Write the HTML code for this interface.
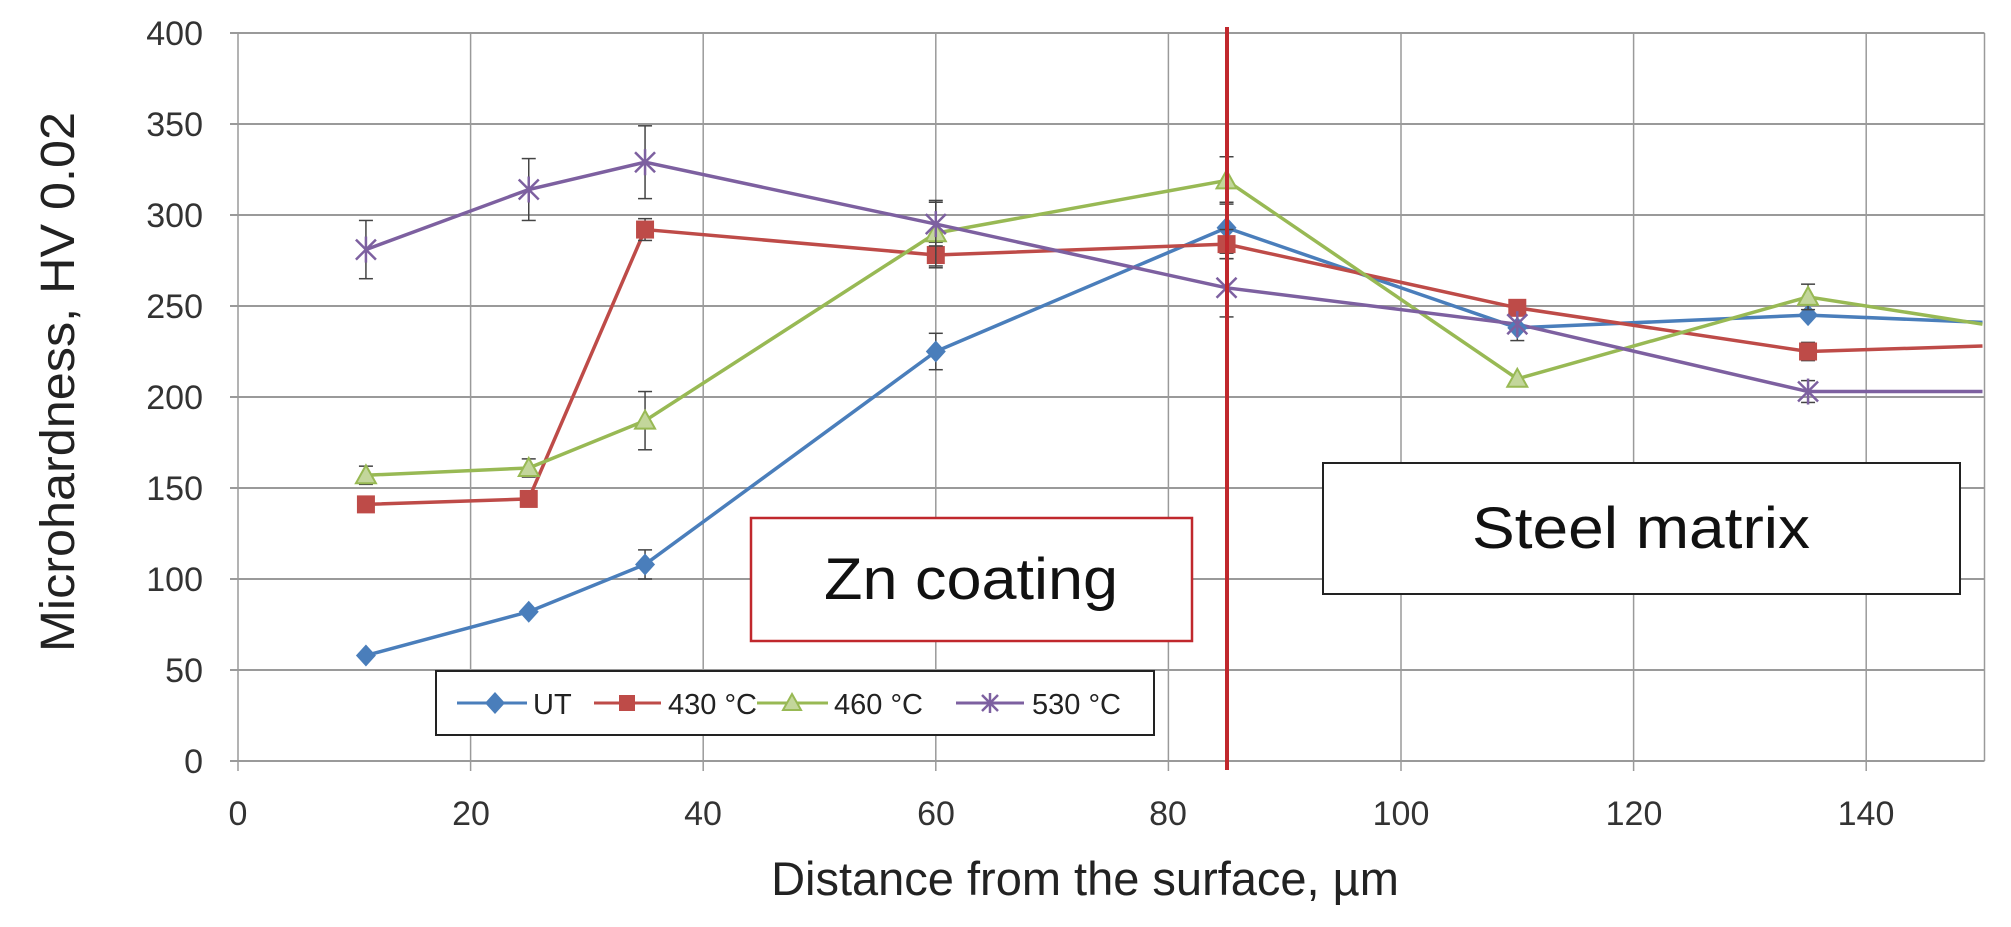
<!DOCTYPE html>
<html><head><meta charset="utf-8">
<style>
html,body{margin:0;padding:0;background:#fff;}
svg{display:block;font-family:"Liberation Sans",sans-serif;}
</style></head>
<body>
<svg id="c" width="2011" height="927" viewBox="0 0 2011 927" xmlns="http://www.w3.org/2000/svg">
<rect width="2011" height="927" fill="#fff"/>
<g id="grid" stroke="#9a9a9a" stroke-width="2"></g>
<g fill="#333" font-size="34" text-anchor="end">
<text x="203" y="773">0</text>
<text x="203" y="682">50</text>
<text x="203" y="591">100</text>
<text x="203" y="500">150</text>
<text x="203" y="409">200</text>
<text x="203" y="318">250</text>
<text x="203" y="227">300</text>
<text x="203" y="136">350</text>
<text x="203" y="45">400</text>
</g>
<g fill="#333" font-size="34" text-anchor="middle">
<text x="238" y="825">0</text>
<text x="471" y="825">20</text>
<text x="703" y="825">40</text>
<text x="936" y="825">60</text>
<text x="1168" y="825">80</text>
<text x="1401" y="825">100</text>
<text x="1634" y="825">120</text>
<text x="1866" y="825">140</text>
</g>
<text x="1085" y="895" font-size="47" fill="#222" text-anchor="middle">Distance from the surface, µm</text>
<text transform="translate(74,382) rotate(-90)" font-size="48" fill="#222" text-anchor="middle" textLength="540" lengthAdjust="spacingAndGlyphs">Microhardness, HV 0.02</text>

<rect x="751" y="518" width="441" height="123" fill="#fff" stroke="#c0282d" stroke-width="2.5"/>
<text x="971" y="599" font-size="58" fill="#111" text-anchor="middle" textLength="294" lengthAdjust="spacingAndGlyphs">Zn coating</text>
<rect x="1323" y="463" width="637" height="131" fill="#fff" stroke="#222" stroke-width="2"/>
<text x="1641" y="548" font-size="58" fill="#111" text-anchor="middle" textLength="338" lengthAdjust="spacingAndGlyphs">Steel matrix</text>

<g id="series"></g>
<line x1="1227" y1="27" x2="1227" y2="770" stroke="#c0282d" stroke-width="4"/>

<rect x="436" y="671" width="718" height="64" fill="#fff" stroke="#222" stroke-width="2"/>
<g stroke-width="3">
<line x1="457" y1="703" x2="527" y2="703" stroke="#4a7ebb"/>
<line x1="594" y1="703" x2="661" y2="703" stroke="#be4b48"/>
<line x1="757" y1="703" x2="828" y2="703" stroke="#98b954"/>
<line x1="956" y1="703" x2="1024" y2="703" stroke="#7d60a0"/>
</g>
<polygon points="495,692 505,703 495,714 485,703" fill="#4a7ebb"/>
<rect x="619" y="695" width="16" height="16" fill="#be4b48"/>
<polygon points="792,694 801,710 783,710" fill="#c3d69b" stroke="#98b954" stroke-width="2"/>
<g stroke="#7d60a0" stroke-width="2.5"><line x1="982" y1="695" x2="998" y2="711"/><line x1="982" y1="711" x2="998" y2="695"/><line x1="990" y1="693" x2="990" y2="713"/></g>
<g font-size="29" fill="#222">
<text x="533" y="714">UT</text>
<text x="668" y="714">430 °C</text>
<text x="834" y="714">460 °C</text>
<text x="1032" y="714">530 °C</text>
</g>
</svg>
<script>
(function(){
var X=function(v){return 238+v*11.63;}, Y=function(v){return 761-v*1.82;};
var ns="http://www.w3.org/2000/svg";
function el(p,n,a){var e=document.createElementNS(ns,n);for(var k in a)e.setAttribute(k,a[k]);p.appendChild(e);return e;}
var g=document.getElementById("grid");
for(var v=0;v<=400;v+=50)el(g,"line",{x1:X(0)-8,y1:Y(v),x2:X(150)+2,y2:Y(v)});
for(var u=0;u<=140;u+=20)el(g,"line",{x1:X(u),y1:Y(400),x2:X(u),y2:Y(0)+10,"stroke-width":1.5});
el(g,"line",{x1:X(150)+2,y1:Y(400),x2:X(150)+2,y2:Y(0),"stroke-width":1.5});
var xs=[11,25,35,60,85,110,135,150];
var S=[
 {c:"#4a7ebb",d:[58,82,108,225,293,238,245,241],e:[0,0,8,10,14,7,0,0],m:"d"},
 {c:"#be4b48",d:[141,144,292,278,284,249,225,228],e:[0,0,6,7,8,0,5,0],m:"s"},
 {c:"#98b954",d:[157,161,187,290,319,210,255,240],e:[5,5,16,18,13,0,7,0],m:"t"},
 {c:"#7d60a0",d:[281,314,329,295,260,240,203,203],e:[16,17,20,12,16,0,6,0],m:"x"}
];
var s=document.getElementById("series");
S.forEach(function(o){
 var pts=xs.map(function(x,i){return X(x)+","+Y(o.d[i]);}).join(" ");
 el(s,"polyline",{points:pts,fill:"none",stroke:o.c,"stroke-width":3.5});
});
S.forEach(function(o){
 xs.forEach(function(x,i){
  if(x==150)return;
  var cx=X(x),cy=Y(o.d[i]),e=o.e[i];
  if(e>0){var a=Y(o.d[i]+e),b=Y(o.d[i]-e);
   el(s,"line",{x1:cx,y1:a,x2:cx,y2:b,stroke:"#444","stroke-width":1.5});
   el(s,"line",{x1:cx-7,y1:a,x2:cx+7,y2:a,stroke:"#444","stroke-width":1.5});
   el(s,"line",{x1:cx-7,y1:b,x2:cx+7,y2:b,stroke:"#444","stroke-width":1.5});}
  if(o.m=="d")el(s,"polygon",{points:(cx)+","+(cy-11)+" "+(cx+10)+","+cy+" "+cx+","+(cy+11)+" "+(cx-10)+","+cy,fill:o.c});
  else if(o.m=="s")el(s,"rect",{x:cx-9,y:cy-9,width:18,height:18,fill:o.c});
  else if(o.m=="t")el(s,"polygon",{points:cx+","+(cy-10)+" "+(cx+10)+","+(cy+8)+" "+(cx-10)+","+(cy+8),fill:"#c3d69b",stroke:o.c,"stroke-width":2});
  else{el(s,"line",{x1:cx-10,y1:cy-10,x2:cx+10,y2:cy+10,stroke:o.c,"stroke-width":2.5});
   el(s,"line",{x1:cx-10,y1:cy+10,x2:cx+10,y2:cy-10,stroke:o.c,"stroke-width":2.5});
   el(s,"line",{x1:cx,y1:cy-13,x2:cx,y2:cy+13,stroke:o.c,"stroke-width":2.5});}
 });
});
})();
</script>
</body></html>
